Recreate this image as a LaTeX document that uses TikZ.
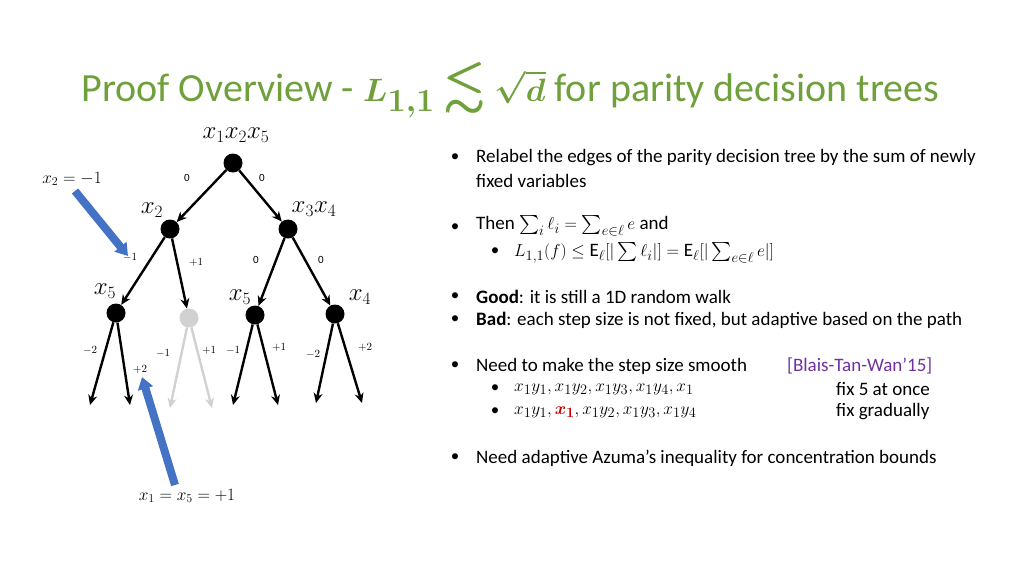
\documentclass[tikz,border=0pt]{standalone}
\usepackage{amsmath,amssymb,bm}
\usepackage{fontspec}
\setmainfont{Carlito}
\usetikzlibrary{arrows.meta}
\definecolor{tgreen}{RGB}{112,160,60}
\definecolor{bblue}{RGB}{68,114,196}
\definecolor{purp}{RGB}{112,48,160}
\definecolor{dred}{RGB}{192,0,0}
\begin{document}
\begin{tikzpicture}[x=1pt,y=-1pt,
  dot/.style={circle,fill=black,minimum size=19pt,inner sep=0pt},
  gdot/.style={circle,fill=black!18,minimum size=19pt,inner sep=0pt},
  edge/.style={-{Stealth[length=10pt,width=9pt]},line width=2.4pt},
  gedge/.style={edge,draw=black!18},
  el/.style={font=\fontsize{11}{13}\selectfont},
  vl/.style={font=\fontsize{23}{26}\selectfont},
  txt/.style={anchor=west,font=\fontsize{19}{22}\selectfont,inner sep=0pt},
  bul/.style={font=\fontsize{17}{20}\selectfont,inner sep=0pt},
  blue/.style={-{Triangle[length=12pt,width=15pt]},line width=8pt,draw=bblue}]
\useasboundingbox (0,0) rectangle (1024,576);
\node[anchor=west,text=tgreen,font=\fontsize{40}{44}\selectfont] (title) at (78,90) {Proof Overview - \scalebox{1.3}{$\bm{L_{1,1}\lesssim\sqrt{d}}$} for parity decision trees};
% tree
\node[dot] (r) at (233,163) {};
\node[dot] (a) at (170,229) {};
\node[dot] (b) at (288,229) {};
\node[dot] (c) at (116,313) {};
\node[gdot] (g) at (189,318) {};
\node[dot] (d) at (255,315) {};
\node[dot] (e) at (335,314) {};
\foreach \n/\x/\y in {l1/90/405,l2/130/405,l3/170/408,l4/212/408,l5/233/405,l6/278/405,l7/316/403,l8/362/403}
  \coordinate (\n) at (\x,\y);
\draw[edge] (r) -- (a); \draw[edge] (r) -- (b);
\draw[edge] (a) -- (c); \draw[edge] (a) -- (g);
\draw[edge] (b) -- (d); \draw[edge] (b) -- (e);
\draw[edge] (c) -- (l1); \draw[edge] (c) -- (l2);
\draw[gedge] (g) -- (l3); \draw[gedge] (g) -- (l4);
\draw[edge] (d) -- (l5); \draw[edge] (d) -- (l6);
\draw[edge] (e) -- (l7); \draw[edge] (e) -- (l8);
\node[vl] (lr) at (236,135) {$x_1x_2x_5$};
\node[vl] (la) at (152,210) {$x_2$};
\node[vl] (lb) at (314,209) {$x_3x_4$};
\node[vl] (lc) at (105,291) {$x_5$};
\node[vl] (ld) at (240,297) {$x_5$};
\node[vl] (le) at (360,297) {$x_4$};
\foreach \n/\x/\y/\t in {e1/187/178/0,e2/262/178/0,e3/130/257/$-1$,e4/196/262/$+1$,e5/256/260/0,e6/321/260/0,e7/90/350/$-2$,e8/163/353/$-1$,e9/209/350/$+1$,e10/233/350/$-1$,e11/279/347/$+1$,e12/313/354/$-2$,e13/365/347/$+2$,e14/140/369/$+2$}
  \node[el] (\n) at (\x,\y) {\t};
\node[font=\fontsize{17}{20}\selectfont] (fx2) at (72,179) {$x_2=-1$};
\node[font=\fontsize{17}{20}\selectfont] (fx1) at (187,496) {$x_1=x_5=+1$};
\coordinate (b1s) at (75,191); \coordinate (b1e) at (128,256);
\coordinate (b2s) at (175,485); \coordinate (b2e) at (142,377);
\draw[blue] (b1s) -- (b1e);
\draw[blue] (b2s) -- (b2e);
% text
\foreach \n/\y in {p1/158,p2/228,p3/297,p4/320,p5/366,p6/458}
  \node[bul] (\n) at (455,\y) {•};
\foreach \n/\y in {q1/252,q2/389,q3/412}
  \node[bul] (\n) at (495,\y) {•};
\node[txt] (t1) at (476,158) {Relabel the edges of the parity decision tree by the sum of newly};
\node[txt] (t1b) at (476,181) {fixed variables};
\node[txt] (t2) at (476,226) {Then $\sum_i\ell_i=\sum_{e\in\ell}e$ and};
\node[txt] (t3) at (514,253) {$L_{1,1}(f)\le \mathrm{E}_\ell[|\sum\ell_i|]=\mathrm{E}_\ell[|\sum_{e\in\ell}e|]$};
\node[txt] (t4) at (476,297) {\textbf{Good}: it is still a 1D random walk};
\node[txt] (t5) at (476,320) {\textbf{Bad}: each step size is not fixed, but adaptive based on the path};
\node[txt] (t6) at (476,366) {Need to make the step size smooth};
\node[txt,text=purp] (t6b) at (787,366) {[Blais-Tan-Wan’15]};
\node[txt] (t7) at (514,389) {$x_1y_1,x_1y_2,x_1y_3,x_1y_4,x_1$};
\node[txt] (t7b) at (836,389) {fix 5 at once};
\node[txt] (t8) at (514,412) {$x_1y_1,{\color{dred}\bm{x_1}},x_1y_2,x_1y_3,x_1y_4$};
\node[txt] (t8b) at (836,412) {fix gradually};
\node[txt] (t9) at (476,458) {Need adaptive Azuma’s inequality for concentration bounds};
\end{tikzpicture}
\end{document}
